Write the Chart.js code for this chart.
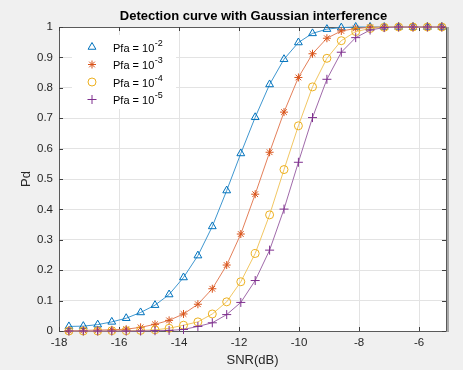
<!DOCTYPE html>
<html>
<head>
<meta charset="utf-8">
<script src="https://cdn.jsdelivr.net/npm/chart.js@4.4.1/dist/chart.umd.min.js"></script>
<style>
  html, body { margin: 0; padding: 0; background: #f0f0f0; }
  #c { display: block; }
</style>
</head>
<body>
<canvas id="c" width="463" height="370"></canvas>
<script>
// ---- data ----
const snr = [-17.67, -17.19, -16.71, -16.24, -15.76, -15.28, -14.80, -14.33, -13.85, -13.37,
             -12.89, -12.41, -11.94, -11.46, -10.98, -10.50, -10.02, -9.55, -9.07, -8.59,
             -8.11, -7.63, -7.16, -6.68, -6.20, -5.72, -5.24];
const pdPfa2 = [0.015, 0.016, 0.021, 0.030, 0.042, 0.061, 0.085, 0.120, 0.176, 0.248,
                0.344, 0.462, 0.584, 0.703, 0.811, 0.894, 0.949, 0.979, 0.993, 0.998,
                1, 1, 1, 1, 1, 1, 1];
const pdPfa3 = [0.001, 0.002, 0.003, 0.004, 0.006, 0.012, 0.022, 0.035, 0.056, 0.088,
                0.139, 0.217, 0.319, 0.450, 0.588, 0.720, 0.834, 0.912, 0.963, 0.987,
                0.995, 0.999, 1, 1, 1, 1, 1];
const pdPfa4 = [0, 0, 0, 0.001, 0.001, 0.002, 0.004, 0.009, 0.019, 0.030,
                0.056, 0.096, 0.162, 0.255, 0.382, 0.531, 0.675, 0.803, 0.897, 0.955,
                0.985, 0.995, 0.999, 1, 1, 1, 1];
const pdPfa5 = [0, 0, 0, 0, 0, 0, 0.001, 0.002, 0.005, 0.015,
                0.027, 0.054, 0.094, 0.166, 0.266, 0.401, 0.555, 0.702, 0.828, 0.917,
                0.965, 0.990, 0.998, 1, 1, 1, 1];
const seriesNames = ['Pfa = 10', 'Pfa = 10', 'Pfa = 10', 'Pfa = 10'];
const seriesExps = ['-2', '-3', '-4', '-5'];
const xTicks = [-18, -16, -14, -12, -10, -8, -6];
const yTicks = [0, 0.1, 0.2, 0.3, 0.4, 0.5, 0.6, 0.7, 0.8, 0.9, 1];
const titleText = 'Detection curve with Gaussian interference';
const xTitle = 'SNR(dB)';
const yTitle = 'Pd';

// ---- styles ----
const colors = ['#0072BD', '#D95319', '#EDB120', '#7E2F8E'];
const lineColors = ['#3f97d0', '#e4805a', '#f2c763', '#a06aaa'];
const styles = ['triangle', 'star', 'circle', 'cross'];
const radii = [4.5, 4, 4, 4.5];
const FONT = '"Liberation Sans", Arial, Helvetica, sans-serif';

const allPd = [pdPfa2, pdPfa3, pdPfa4, pdPfa5];
const datasets = allPd.map((arr, k) => ({
  label: seriesNames[k] + seriesExps[k],
  data: snr.map((x, i) => ({ x: x, y: arr[i] })),
  borderColor: lineColors[k],
  borderWidth: 1,
  pointStyle: styles[k],
  pointRadius: radii[k],
  pointBorderWidth: 1,
  pointBorderColor: colors[k],
  pointBackgroundColor: 'rgba(0,0,0,0)',
  tension: 0,
  clip: false,
  order: 4 - k
}));

const framePlugin = {
  id: 'frame',
  beforeDraw(chart) {
    const ctx = chart.ctx, a = chart.chartArea;
    ctx.save();
    ctx.fillStyle = '#f0f0f0';
    ctx.fillRect(0, 0, chart.width, chart.height);
    ctx.fillStyle = '#ffffff';
    ctx.fillRect(a.left, a.top, a.right - a.left, a.bottom - a.top);
    ctx.restore();
  },
  beforeDatasetsDraw(chart) {
    const ctx = chart.ctx, a = chart.chartArea;
    const xs = chart.scales.x, ys = chart.scales.y;
    ctx.save();
    // box
    ctx.strokeStyle = '#5a5a5a';
    ctx.lineWidth = 1;
    ctx.beginPath();
    ctx.rect(Math.round(a.left) + 0.5, Math.round(a.top) + 0.5,
             Math.round(a.right - a.left), Math.round(a.bottom - a.top));
    ctx.stroke();
    ctx.fillStyle = 'rgba(120,120,120,0.6)';
    ctx.fillRect(Math.round(a.right) + 1, a.top, 2, a.bottom - a.top + 1);
    // inward ticks
    ctx.strokeStyle = '#404040';
    ctx.beginPath();
    const tl = 4;
    xTicks.forEach(v => {
      const px = Math.round(xs.getPixelForValue(v)) + 0.5;
      ctx.moveTo(px, a.bottom); ctx.lineTo(px, a.bottom - tl);
      ctx.moveTo(px, a.top); ctx.lineTo(px, a.top + tl);
    });
    yTicks.forEach(v => {
      const py = Math.round(ys.getPixelForValue(v)) + 0.5;
      ctx.moveTo(a.left, py); ctx.lineTo(a.left + tl, py);
      ctx.moveTo(a.right, py); ctx.lineTo(a.right - tl, py);
    });
    ctx.stroke();
    // legend box (white, no border)
    const lx = a.left + 13, ly = a.top + 8;
    ctx.fillStyle = '#ffffff';
    ctx.fillRect(lx, ly, 104, 74);
    const rowY = [47, 64.5, 82, 99.5];
    for (let k = 0; k < 4; k++) {
      ctx.strokeStyle = colors[k];
      ctx.fillStyle = 'rgba(0,0,0,0)';
      ctx.lineWidth = 1;
      Chart.helpers.drawPoint(ctx, {
        pointStyle: styles[k], radius: radii[k], rotation: 0, borderWidth: 1
      }, a.left + 33, rowY[k]);
      ctx.fillStyle = '#000000';
      ctx.textBaseline = 'middle';
      ctx.textAlign = 'left';
      ctx.font = '11px ' + FONT;
      const base = seriesNames[k];
      ctx.fillText(base, a.left + 54, rowY[k] + 1.5);
      const w = ctx.measureText(base).width;
      ctx.font = '9px ' + FONT;
      ctx.fillText(seriesExps[k], a.left + 54 + w + 0.5, rowY[k] - 3.5);
    }
    ctx.restore();
  },
  afterDraw(chart) {
    const ctx = chart.ctx, a = chart.chartArea;
    ctx.save();
    ctx.fillStyle = '#000000';
    ctx.textAlign = 'center';
    ctx.textBaseline = 'middle';
    ctx.font = 'bold 13px ' + FONT;
    ctx.fillText(titleText, (a.left + a.right) / 2 + 1, 16);
    ctx.restore();
  }
};

new Chart(document.getElementById('c'), {
  type: 'line',
  data: { datasets: datasets },
  plugins: [framePlugin],
  options: {
    responsive: false,
    animation: false,
    devicePixelRatio: 1,
    layout: { padding: { left: 0, right: 17, top: 27, bottom: 0 } },
    plugins: { legend: { display: false }, tooltip: { enabled: false }, title: { display: false } },
    scales: {
      x: {
        type: 'linear',
        min: -18,
        max: -5.1,
        afterBuildTicks: s => { s.ticks = xTicks.map(v => ({ value: v })); },
        afterFit: s => { s.height = 39; },
        ticks: {
          font: { family: FONT, size: 11.5 },
          color: '#262626',
          padding: 5,
          maxRotation: 0,
          callback: v => String(v)
        },
        grid: { color: '#e3e3e3', drawTicks: false, lineWidth: 1 },
        border: { display: false },
        title: {
          display: true, text: xTitle, color: '#262626',
          font: { family: FONT, size: 13 },
          padding: { top: 0, bottom: 2 }
        }
      },
      y: {
        type: 'linear',
        min: 0,
        max: 1,
        afterBuildTicks: s => { s.ticks = yTicks.map(v => ({ value: v })); },
        afterFit: s => { s.width = 59; },
        ticks: {
          font: { family: FONT, size: 11.5 },
          color: '#262626',
          padding: 6,
          callback: v => String(v)
        },
        grid: { color: '#e3e3e3', drawTicks: false, lineWidth: 1 },
        border: { display: false },
        title: {
          display: true, text: yTitle, color: '#262626',
          font: { family: FONT, size: 13 },
          padding: { top: 19, bottom: 0 }
        }
      }
    }
  }
});
</script>
</body>
</html>
